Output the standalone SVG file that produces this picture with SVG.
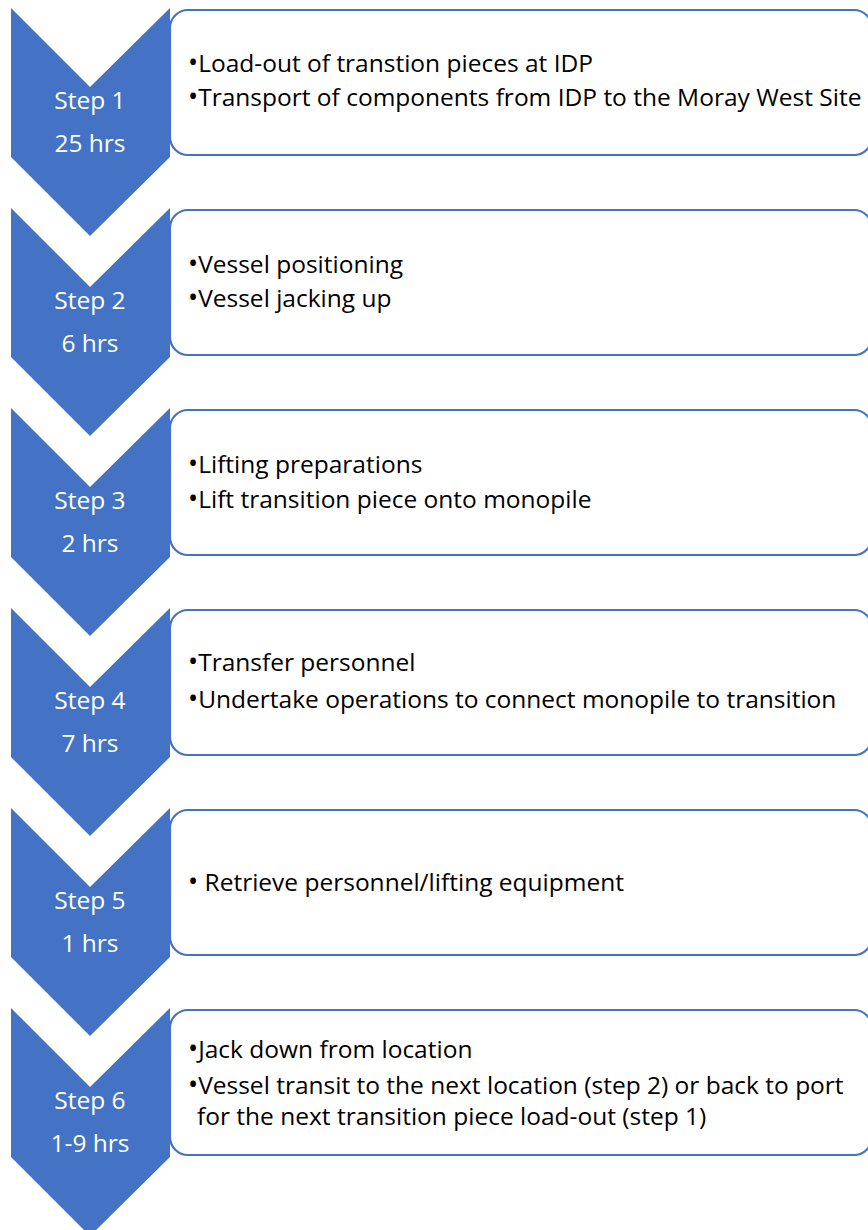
<svg xmlns="http://www.w3.org/2000/svg" width="868" height="1230" viewBox="0 0 868 1230">
<defs>
<style>
.chev{fill:#4472C4;}
.box{fill:#FFFFFF;stroke:#4472C4;stroke-width:2.2;}
.lbl{font-family:"Open Sans","Liberation Sans",sans-serif;font-size:24.5px;fill:#FFFFFF;text-anchor:middle;}
.txt{font-family:"Open Sans","Liberation Sans",sans-serif;font-size:24.5px;fill:#000000;}
.bul{font-size:27px;}
</style>
<polygon id="chevShape" class="chev" points="11,8 90,87 170,8 170,157 90,236 11,157"/>
</defs>
<rect width="868" height="1230" fill="#FFFFFF"/>
<g id="connectors"></g>
<g id="step1">
<use href="#chevShape" transform="translate(0,0)"/>
<rect class="box" x="170" y="10" width="702" height="145" rx="18" ry="18"/>
<text class="lbl" x="90" y="109">Step 1</text>
<text class="lbl" x="90" y="152">25 hrs</text>
<text class="txt" x="188" y="72"><tspan class="bul">•</tspan>Load-out of transtion pieces at IDP</text>
<text class="txt" x="188" y="106"><tspan class="bul">•</tspan>Transport of components from IDP to the Moray West Site</text>
</g>
<g id="step2">
<use href="#chevShape" transform="translate(0,200)"/>
<rect class="box" x="170" y="210" width="702" height="145" rx="18" ry="18"/>
<text class="lbl" x="90" y="309">Step 2</text>
<text class="lbl" x="90" y="352">6 hrs</text>
<text class="txt" x="188" y="273"><tspan class="bul">•</tspan>Vessel positioning</text>
<text class="txt" x="188" y="307"><tspan class="bul">•</tspan>Vessel jacking up</text>
</g>
<g id="step3">
<use href="#chevShape" transform="translate(0,400)"/>
<rect class="box" x="170" y="410" width="702" height="145" rx="18" ry="18"/>
<text class="lbl" x="90" y="509">Step 3</text>
<text class="lbl" x="90" y="552">2 hrs</text>
<text class="txt" x="188" y="473"><tspan class="bul">•</tspan>Lifting preparations</text>
<text class="txt" x="188" y="508"><tspan class="bul">•</tspan>Lift transition piece onto monopile</text>
</g>
<g id="step4">
<use href="#chevShape" transform="translate(0,600)"/>
<rect class="box" x="170" y="610" width="702" height="145" rx="18" ry="18"/>
<text class="lbl" x="90" y="709">Step 4</text>
<text class="lbl" x="90" y="752">7 hrs</text>
<text class="txt" x="188" y="671"><tspan class="bul">•</tspan>Transfer personnel</text>
<text class="txt" x="188" y="708"><tspan class="bul">•</tspan>Undertake operations to connect monopile to transition</text>
</g>
<g id="step5">
<use href="#chevShape" transform="translate(0,800)"/>
<rect class="box" x="170" y="810" width="702" height="145" rx="18" ry="18"/>
<text class="lbl" x="90" y="909">Step 5</text>
<text class="lbl" x="90" y="952">1 hrs</text>
<text class="txt" x="188" y="891"><tspan class="bul">•</tspan> Retrieve personnel/lifting equipment</text>
</g>
<g id="step6">
<use href="#chevShape" transform="translate(0,1000)"/>
<rect class="box" x="170" y="1010" width="702" height="145" rx="18" ry="18"/>
<text class="lbl" x="90" y="1109">Step 6</text>
<text class="lbl" x="90" y="1152">1-9 hrs</text>
<text class="txt" x="188" y="1058"><tspan class="bul">•</tspan>Jack down from location</text>
<text class="txt" x="188" y="1094"><tspan class="bul">•</tspan>Vessel transit to the next location (step 2) or back to port</text>
<text class="txt" x="197" y="1125">for the next transition piece load-out (step 1)</text>
</g>
</svg>
